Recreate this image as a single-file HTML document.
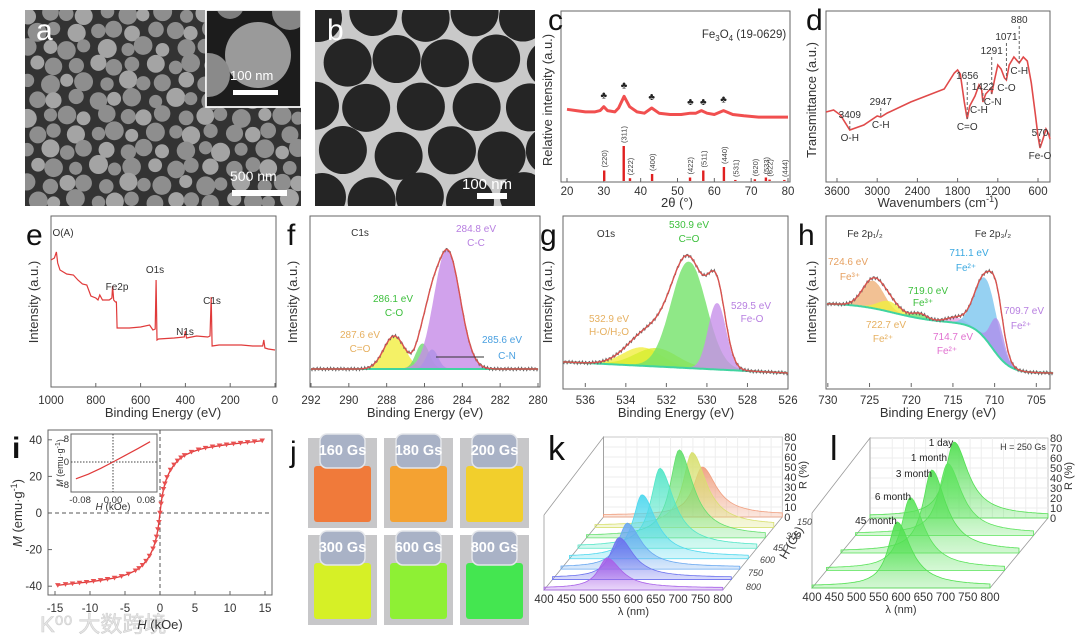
<!DOCTYPE html>
<html><head><meta charset="utf-8"><style>
html,body{margin:0;padding:0;background:#fff;}
svg{display:block;font-family:"Liberation Sans","Noto Sans CJK SC",sans-serif;}
.tk{font-size:11.5px;fill:#333;}
.tt{font-size:13px;fill:#333;}
.pl{font-size:30px;fill:#111;}
.an{font-size:10px;fill:#333;}
</style></head><body>
<svg id="fig" width="1080" height="637" viewBox="0 0 1080 637" xmlns="http://www.w3.org/2000/svg">
<defs>
<clipPath id="clipA"><rect x="25" y="10" width="276" height="196"/></clipPath>
<clipPath id="clipB"><rect x="315" y="10" width="220" height="196"/></clipPath>
<clipPath id="clipIn"><rect x="206" y="10" width="95" height="97"/></clipPath>
</defs>
<g id="panelA">
<rect x="25" y="10" width="276" height="196" fill="#333"/>
<g id="semDots" clip-path="url(#clipA)"></g>
<rect x="206" y="10" width="95" height="97" fill="#1c1c1c" stroke="#fff" stroke-width="1.5"/>
<g id="insetDots" clip-path="url(#clipIn)"></g>
<rect x="206" y="10" width="95" height="97" fill="none" stroke="#fff" stroke-width="1.5"/>
<text x="230" y="80" fill="#fff" font-size="13">100 nm</text>
<rect x="233" y="90" width="45" height="5" fill="#fff"/>
<text x="230" y="181" fill="#fff" font-size="14">500 nm</text>
<rect x="232" y="190" width="55" height="6" fill="#fff"/>
<text x="36" y="40" class="pl" fill="#fff" style="fill:#fff">a</text>
</g>
<g id="panelB">
<rect x="315" y="10" width="220" height="196" fill="#c9c9c9"/>
<g id="temDots" clip-path="url(#clipB)"></g>
<text x="462" y="189" fill="#fff" font-size="15">100 nm</text>
<rect x="477" y="193" width="30" height="6" fill="#fff"/>
<text x="327" y="40" class="pl" style="fill:#fff">b</text>
</g>
<g>
<rect x="561" y="11" width="229" height="171" fill="none" stroke="#666"/>
<text x="548" y="30" class="pl">c</text>
<text x="744" y="38" font-size="11.5" fill="#333" text-anchor="middle">Fe<tspan font-size="8" dy="3">3</tspan><tspan dy="-3">O</tspan><tspan font-size="8" dy="3">4</tspan><tspan dy="-3"> (19-0629)</tspan></text>
<text transform="translate(552,100) rotate(-90)" class="tt" text-anchor="middle">Relative intensity (a.u.)</text>
<text x="677" y="207" class="tt" text-anchor="middle">2θ (°)</text>
<g id="xrdG"></g>
</g>
<g>
<rect x="826" y="11" width="224" height="171" fill="none" stroke="#666"/>
<text x="806" y="30" class="pl">d</text>
<text transform="translate(816,100) rotate(-90)" class="tt" text-anchor="middle">Transmittance (a.u.)</text>
<text x="938" y="207" class="tt" text-anchor="middle">Wavenumbers (cm<tspan font-size="9" dy="-5">-1</tspan><tspan dy="5">)</tspan></text>
<g id="ftirG"></g>
</g>
<g>
<rect x="51" y="216" width="225" height="171" fill="none" stroke="#666"/>
<text x="26" y="245" class="pl">e</text>
<text transform="translate(38,302) rotate(-90)" class="tt" text-anchor="middle">Intensity (a.u.)</text>
<text x="163" y="417" class="tt" text-anchor="middle">Binding Energy (eV)</text>
<g id="surveyG"></g>
</g>
<g>
<rect x="310" y="216" width="230" height="171" fill="none" stroke="#666"/>
<text x="287" y="245" class="pl">f</text>
<text transform="translate(297,302) rotate(-90)" class="tt" text-anchor="middle">Intensity (a.u.)</text>
<text x="425" y="417" class="tt" text-anchor="middle">Binding Energy (eV)</text>
<g id="c1sG"></g>
</g>
<g>
<rect x="563" y="216" width="225" height="173" fill="none" stroke="#666"/>
<text x="540" y="245" class="pl">g</text>
<text transform="translate(552,302) rotate(-90)" class="tt" text-anchor="middle">Intensity (a.u.)</text>
<text x="676" y="417" class="tt" text-anchor="middle">Binding Energy (eV)</text>
<g id="o1sG"></g>
</g>
<g>
<rect x="826" y="216" width="224" height="173" fill="none" stroke="#666"/>
<text x="798" y="245" class="pl">h</text>
<text transform="translate(816,302) rotate(-90)" class="tt" text-anchor="middle">Intensity (a.u.)</text>
<text x="938" y="417" class="tt" text-anchor="middle">Binding Energy (eV)</text>
<g id="fe2pG"></g>
</g>
<g>
<rect x="48" y="430" width="224" height="165" fill="none" stroke="#666"/>
<text x="12" y="458" font-size="30" font-weight="bold" fill="#111">i</text>
<text transform="translate(22,513) rotate(-90)" class="tt" text-anchor="middle"><tspan font-style="italic">M</tspan> (emu·g<tspan font-size="9" dy="-5">-1</tspan><tspan dy="5">)</tspan></text>
<g id="magG"></g>
<rect x="71" y="434" width="86" height="58" fill="#fff" stroke="#666"/>
<g id="insetG"></g>
<text x="113" y="510" font-size="10" fill="#333" text-anchor="middle"><tspan font-style="italic">H</tspan> (kOe)</text>
<text transform="translate(63,463) rotate(-90)" font-size="9" fill="#333" text-anchor="middle"><tspan font-style="italic">M</tspan> (emu·g<tspan font-size="7" dy="-3">-1</tspan><tspan dy="3">)</tspan></text>
<text x="40" y="632" font-size="22" fill="#e6e6e6" stroke="#cfcfcf" stroke-width="0.6">K⁰⁰ 大数跨境</text>
<text x="160" y="629" class="tt" text-anchor="middle"><tspan font-style="italic">H</tspan> (kOe)</text>
</g>
<g>
<text x="290" y="462" font-size="30" fill="#111">j</text>
<g id="vialG"></g>
</g>
<g>
<text x="548" y="460" font-size="34" fill="#111">k</text>
<g id="kG"></g>
</g>
<g>
<text x="830" y="460" font-size="34" fill="#111">l</text>
<g id="lG"></g>
</g>
</svg>
<script>
const xrdTheta = [20,22.5,25,27.5,29,30,31,33,34,35.5,37,39,41,43,45,48,51,53.5,55,56.5,58,60,62.5,65,68,72,76,80];
const xrdInt   = [9,8,7,7,8,11,8,7,10,19,11,7,6,10,6,5,5,6,6,8,6,5,8,5,4,3,3,3];
const xrdMarkTheta = [30,35.5,43,53.5,57,62.5];
const refTheta = [30.1,35.4,37.1,43.1,53.4,57.0,62.6,65.7,71.0,74.0,75.0,79.0];
const refInt   = [30,100,8,20,10,30,40,3,5,10,4,3];
const refHkl   = ["(220)","(311)","(222)","(400)","(422)","(511)","(440)","(531)","(620)","(533)","(622)","(444)"];
const xrdTicks = [20,30,40,50,60,70,80];

const ftirWn = [3764,3650,3550,3409,3200,3000,2947,2850,2500,2000,1850,1800,1760,1700,1656,1620,1540,1480,1440,1422,1380,1300,1291,1250,1200,1150,1100,1071,1030,960,880,820,760,700,640,600,570,530,480,440,421];
const ftirT  = [70,72,67,52,57,66,65,69,80,93,109,112,108,80,63,76,86,97,92,80,88,94,88,102,117,113,104,102,117,125,119,125,121,99,68,46,34,42,53,48,43];
const ftirTicks = [3600,3000,2400,1800,1200,600];
const ftirBands = [3409,2947,1656,1422,1291,1071,880,570];
const ftirBandLbl = ["3409","2947","1656","1422","1291","1071","880","570"];
const ftirGroup = ["O-H","C-H","C=O","C-H","C-N","C-O","C-H","Fe-O"];

const surveyBE  = [1000,985,976,970,960,930,900,880,860,840,822,800,790,782,770,740,728,725,720,712,708,705,650,600,560,545,535,531,527,520,450,405,400,395,350,300,290,285,281,250,150,100,55,50,45,30,0];
const surveyCnt = [150,152,158,147,140,136,135,130,126,125,114,112,110,115,110,110,112,124,110,108,108,82,82,83,85,80,81,130,70,71,72,73,79,72,74,73,74,113,64,65,65,64,64,70,62,61,60];
const surveyTicks = [1000,800,600,400,200,0];

const c1sCenter = [287.6,286.1,285.6,284.8];
const c1sAmp    = [33,25,19,119];
const c1sFwhm   = [1.3,0.8,0.7,1.6];
const c1sColor  = ["#f2ee40","#6fdc6f","#5aa7e6","#c68ce8"];
const c1sTicks  = [292,290,288,286,284,282,280];

const o1sCenter = [533.2,532.5,530.9,529.5];
const o1sAmp    = [18,18,106,66];
const o1sFwhm   = [2.2,2.4,2.0,1.0];
const o1sColor  = ["#f2ee40","#d8ee30","#74e36a","#c890ea"];
const o1sTicks  = [536,534,532,530,528,526];

const feCenter = [724.6,722.7,719.0,714.7,711.1,709.7];
const feAmp    = [27,10,5,5,60,35];
const feFwhm   = [3.0,3.0,2.0,2.5,3.0,1.8];
const feColor  = ["#f0b27a","#f2ee40","#74e36a","#f0a0e0","#7cc6f0","#b090ec"];
const feTicks  = [730,725,720,715,710,705];

const magH = [-14.6,-13.5,-12.5,-11.5,-10.5,-9.5,-8.5,-7.5,-6.5,-5.5,-4.5,-3.5,-3,-2.5,-2,-1.5,-1,-0.7,-0.5,-0.3,-0.15,0,0.15,0.3,0.5,0.7,1,1.5,2,2.5,3,3.5,4.5,5.5,6.5,7.5,8.5,9.5,10.5,11.5,12.5,13.5,14.6];
const magM = [-39.5,-39,-38.6,-38.2,-37.8,-37.3,-36.8,-36.2,-35.5,-34.6,-33.3,-31.5,-30.2,-28.5,-26.3,-23.5,-19.5,-16,-13,-9,-5,0,5,9,13,16,19.5,23.5,26.3,28.5,30.2,31.5,33.3,34.6,35.5,36.2,36.8,37.3,37.8,38.2,38.6,39,39.5];
const magXTicks = [-15,-10,-5,0,5,10,15];
const magYTicks = [40,20,0,-20,-40];
const insetH = [-0.09,-0.06,-0.03,0,0.03,0.06,0.09];
const insetM = [-5.8,-4.2,-2.2,0,2.3,4.6,7.0];

const vialField = ["160 Gs","180 Gs","200 Gs","300 Gs","600 Gs","800 Gs"];
const vialColor = ["#f07a3a","#f4a232","#f2cf2c","#d6f026","#8ef034","#44e650"];

const kPeak = [541,549,548,562,583,607,617,621];
const kR    = [32,42,46,64,80,88,75,50];
const kColor = ["#a860e8","#6c72ee","#6aa8f0","#4fd8ee","#55e6c8","#66e070","#d8e070","#f0a080"];
const kFieldLbl = ["800","750","600","450","300","150"];
const lPeak = [591,588,604,607,589];
const lR    = [66,73,83,72,76];
const lAge  = ["45 month","6 month","3 month","1 month","1 day"];
const rTicks = [0,10,20,30,40,50,60,70,80];
const lamTicks = [400,450,500,550,600,650,700,750,800];

const NS = "http://www.w3.org/2000/svg";
function mk(tag, attrs, parent){ const e=document.createElementNS(NS,tag); for(const k in attrs) e.setAttribute(k,attrs[k]); parent.appendChild(e); return e; }
function scale(d0,d1,r0,r1){ return v => r0 + (v-d0)*(r1-r0)/(d1-d0); }
function txt(parent,x,y,s,attrs){ const t=mk("text",Object.assign({x:x,y:y},attrs||{}),parent); t.textContent=s; return t; }
function gauss(x,c,a,w){ const s=w/2.3548; return a*Math.exp(-0.5*((x-c)/s)**2); }
function poly(xs,ys){ return xs.map((x,i)=>x.toFixed(1)+","+ys[i].toFixed(1)).join(" "); }

(function(){
  const g=document.getElementById("semDots");
  for(let r=0;r<12;r++){ for(let c=0;c<15;c++){
    const x=28+c*19.5+(r%2)*9+3*Math.sin(r*3.1+c*1.7), y=14+r*17+2.5*Math.cos(c*2.3+r);
    const rad=8+1.5*Math.sin(r*1.3+c*2.9);
    const d=mk("circle",{cx:x,cy:y,r:rad,fill:(r+c)%3?"#8e8e8e":"#a4a4a4"},g);
    
    
  }}
  const gi=document.getElementById("insetDots");
  [[258,55,33,"#9a9a9a"],[208,75,22,"#8a8a8a"],[290,12,18,"#858585"],[230,5,14,"#7e7e7e"]].forEach(p=>{
    const d=mk("circle",{cx:p[0],cy:p[1],r:p[2],fill:p[3]},gi);
    
    
  });
  const gt=document.getElementById("temDots");
  for(let r=0;r<5;r++){ for(let c=0;c<5;c++){
    const x=318+c*52+(r%2)*26+4*Math.sin(r*2+c), y=15+r*46+3*Math.cos(c*3+r);
    const d=mk("circle",{cx:x,cy:y,r:24,fill:"#252525"},gt);
    
    
  }}
})();

(function(){
  const g=document.getElementById("xrdG");
  const X=scale(20,80,567,788), Y=v=>121-v*1.3, B=v=>181-v*0.35;
  xrdTicks.forEach(v=>{ const t=txt(g,X(v),195,v,{class:"tk","text-anchor":"middle"});
    
    
    mk("line",{x1:X(v),x2:X(v),y1:182,y2:178,stroke:"#666"},g); });
  const ln=mk("polyline",{points:poly(xrdTheta.map(X),xrdInt.map(Y)),fill:"none",stroke:"#ef3030","stroke-width":3,"stroke-linejoin":"round",opacity:0.85},g);
  
  
  xrdMarkTheta.forEach(v=>{ let i=0; while(i<xrdTheta.length-1 && xrdTheta[i+1]<v) i++;
    const t=txt(g,X(v),Y(xrdInt[i+1]||10)-8,"♣",{"font-size":10,"text-anchor":"middle",fill:"#222"});
    
     });
  refTheta.forEach((v,i)=>{
    const b=mk("rect",{x:X(v)-1.2,y:B(refInt[i]),width:2.4,height:181-B(refInt[i]),fill:"#e02020"},g);
    
    
    const t=txt(g,0,0,refHkl[i],{transform:`translate(${X(v)+3},${B(refInt[i])-3}) rotate(-90)`,"font-size":7.5,fill:"#444"});
    
    
  });
})();

(function(){
  const g=document.getElementById("ftirG");
  const X=scale(3600,600,837,1038), Y=v=>182-v;
  ftirTicks.forEach(v=>{ const t=txt(g,X(v),195,v,{class:"tk","text-anchor":"middle"});
    
    
    mk("line",{x1:X(v),x2:X(v),y1:182,y2:178,stroke:"#666"},g); });
  const ln=mk("polyline",{points:poly(ftirWn.map(X),ftirT.map(Y)),fill:"none",stroke:"#e04a4a","stroke-width":1.6},g);
  
  
  ftirBands.forEach((v,i)=>{
    let j=0; while(j<ftirWn.length-1 && ftirWn[j+1]>v) j++;
    const yv=Y(ftirT[j+1]);
    const above = [2,4,5,6].includes(i);
    const ly = above ? yv-40 : yv-12;
    const l=mk("line",{x1:X(v),x2:X(v),y1:ly+3,y2:yv,stroke:"#666","stroke-dasharray":"3,2"},g);
    
    
    const t=txt(g,X(v),ly,ftirBandLbl[i],{class:"an","text-anchor":"middle"});
    
    
    const t2=txt(g,X(v)+(i==3?-4:i==4?1:0),yv+11,ftirGroup[i],{class:"an","text-anchor":"middle"});
    
    
  });
})();

(function(){
  const g=document.getElementById("surveyG");
  const X=scale(1000,0,51,275), Y=v=>410-v;
  surveyTicks.forEach(v=>{ const t=txt(g,X(v),404,v,{class:"tk","text-anchor":"middle"});
    
    
    mk("line",{x1:X(v),x2:X(v),y1:387,y2:383,stroke:"#666"},g); });
  const ln=mk("polyline",{points:poly(surveyBE.map(X),surveyCnt.map(Y)),fill:"none",stroke:"#e03a3a","stroke-width":1.2},g);
  
  
  [["O(A)",63,236],["Fe2p",117,290],["O1s",155,273],["N1s",185,335],["C1s",212,304]].forEach(a=>{
    const t=txt(g,a[1],a[2],a[0],{class:"an","text-anchor":"middle"});
    
    
  });
})();

function xpsPanel(gid,lo,hi,x0,x1,centers,amps,fwhms,colors,base,ticks,name){
  const g=document.getElementById(gid);
  const X=scale(hi,lo,x0,x1);
  ticks.forEach(v=>{ const t=txt(g,X(v),404,v,{class:"tk","text-anchor":"middle"});
    
    
    mk("line",{x1:X(v),x2:X(v),y1:387,y2:383,stroke:"#666"},g); });
  const xs=[]; for(let v=hi; v>=lo-1e-9; v-=(hi-lo)/220) xs.push(v);
  centers.forEach((c,i)=>{
    const top=xs.map(v=>base(v)-gauss(v,c,amps[i],fwhms[i]));
    const pts=poly(xs.map(X),top)+" "+poly(xs.slice().reverse().map(X),xs.slice().reverse().map(base));
    const p=mk("polygon",{points:pts,fill:colors[i],opacity:0.8,stroke:colors[i]},g);
    
    
  });
  const bl=mk("polyline",{points:poly(xs.map(X),xs.map(base)),fill:"none",stroke:"#40d4a0","stroke-width":2},g);
  
  
  const env=xs.map(v=>base(v)-centers.reduce((s,c,i)=>s+gauss(v,c,amps[i],fwhms[i]),0));
  const raw=mk("polyline",{points:poly(xs.map(X),env.map((y,i)=>y+1.8*Math.sin(i*1.9))),fill:"none",stroke:"#666","stroke-width":0.9},g);
  
  
  const e=mk("polyline",{points:poly(xs.map(X),env),fill:"none",stroke:"#d9534f","stroke-width":1.4},g);
  
  
  return g;
}
(function(){
  const g=xpsPanel("c1sG",280,292,311,538,c1sCenter,c1sAmp,c1sFwhm,c1sColor,v=>369,c1sTicks,"c1s");
  [["C1s",360,236,"#333"],["284.8 eV",476,232,"#b77ee0"],["C-C",476,246,"#b77ee0"],["286.1 eV",393,302,"#3cbf3c"],["C-O",394,316,"#3cbf3c"],["287.6 eV",360,338,"#e6b060"],["C=O",360,352,"#e6b060"],["285.6 eV",502,343,"#4aa0e0"],["C-N",507,359,"#4aa0e0"]].forEach(a=>{
    const t=txt(g,a[1],a[2],a[0],{class:"an","text-anchor":"middle",style:"fill:"+a[3]});
    
     });
  const ar=mk("line",{x1:436,y1:357,x2:484,y2:357,stroke:"#333"},g);
  
  
})();
(function(){
  const g=xpsPanel("o1sG",526,537.1,563,788,o1sCenter,o1sAmp,o1sFwhm,o1sColor,v=>362+(537-v)*1.0,o1sTicks,"o1s");
  [["O1s",606,237,"#333"],["530.9 eV",689,228,"#3cbf3c"],["C=O",689,242,"#3cbf3c"],["532.9 eV",609,322,"#e6b060"],["H-O/H₂O",609,335,"#e6b060"],["529.5 eV",751,309,"#b77ee0"],["Fe-O",752,322,"#b77ee0"]].forEach(a=>{
    const t=txt(g,a[1],a[2],a[0],{class:"an","text-anchor":"middle",style:"fill:"+a[3]});
    
     });
})();
(function(){
  const base=v=>373-50/(1+Math.exp(-(v-710.3)/1.1))-20/(1+Math.exp(-(v-722)/2.5));
  const g=xpsPanel("fe2pG",703,730.1,827,1053,feCenter,feAmp,feFwhm,feColor,base,feTicks,"fe2p");
  [["Fe 2p₁/₂",865,237,"#333"],["Fe 2p₃/₂",993,237,"#333"],["724.6 eV",848,265,"#e6a060"],["Fe³⁺",850,280,"#e6a060"],["719.0 eV",928,294,"#3cbf3c"],["Fe³⁺",923,306,"#3cbf3c"],["711.1 eV",969,256,"#3aa8e0"],["Fe²⁺",966,271,"#3aa8e0"],["722.7 eV",886,328,"#e6b060"],["Fe²⁺",883,342,"#e6b060"],["714.7 eV",953,340,"#e070d0"],["Fe²⁺",947,354,"#e070d0"],["709.7 eV",1024,314,"#b77ee0"],["Fe²⁺",1021,329,"#b77ee0"]].forEach(a=>{
    const t=txt(g,a[1],a[2],a[0],{class:"an","text-anchor":"middle",style:"fill:"+a[3]});
    
     });
})();

(function(){
  const g=document.getElementById("magG");
  const X=v=>160+v*7.0, Y=v=>513-v*1.83;
  magXTicks.forEach(v=>{ const t=txt(g,X(v),612,v,{class:"tk","text-anchor":"middle","font-size":13});
    
    
    mk("line",{x1:X(v),x2:X(v),y1:595,y2:591,stroke:"#666"},g); });
  magYTicks.forEach(v=>{ const t=txt(g,42,Y(v)+4,v,{class:"tk","text-anchor":"end","font-size":13});
    
    
    mk("line",{x1:48,x2:52,y1:Y(v),y2:Y(v),stroke:"#666"},g); });
  mk("line",{x1:48,x2:272,y1:Y(0),y2:Y(0),stroke:"#555","stroke-dasharray":"4,3"},g);
  mk("line",{x1:X(0),x2:X(0),y1:430,y2:595,stroke:"#555","stroke-dasharray":"4,3"},g);
  const ln=mk("polyline",{points:poly(magH.map(X),magM.map(Y)),fill:"none",stroke:"#e03a3a","stroke-width":1.3},g);
  
  
  magH.forEach((h,i)=>{ const x=X(h), y=Y(magM[i]);
    const m=mk("polygon",{points:`${x-2.8},${y-2.2} ${x+2.8},${y-2.2} ${x},${y+2.5}`,fill:"#e85050"},g);
    
     });
  const gi=document.getElementById("insetG");
  const XI=v=>113+v*412, YI=v=>462-v*2.9;
  [-0.08,0,0.08].forEach(v=>{ const t=txt(gi,XI(v),503,v.toFixed(2),{"font-size":9.5,fill:"#333","text-anchor":"middle"});
    
     });
  [8,0,-8].forEach(v=>{ const t=txt(gi,69,YI(v)+3,v,{"font-size":9.5,fill:"#333","text-anchor":"end"});
    
     });
  mk("line",{x1:71,x2:157,y1:YI(0),y2:YI(0),stroke:"#444","stroke-dasharray":"1.5,1.5"},gi);
  mk("line",{x1:XI(0),x2:XI(0),y1:434,y2:492,stroke:"#444","stroke-dasharray":"1.5,1.5"},gi);
  const il=mk("polyline",{points:poly(insetH.map(XI),insetM.map(YI)),fill:"none",stroke:"#e03a3a","stroke-width":1.2},gi);
  
  
})();

(function(){
  const g=document.getElementById("vialG");
  const xs=[308,384,460], ys=[438,535];
  vialField.forEach((lbl,i)=>{
    const x=xs[i%3], y=ys[Math.floor(i/3)], w=69, h=90;
    const o=mk("rect",{x:x,y:y,width:w,height:h,fill:"#c7c7c9"},g);
    
    
    const lq=mk("rect",{x:x+6,y:y+28,width:w-12,height:h-34,rx:3,fill:vialColor[i]},g);
    
    
    const cap=mk("rect",{x:x+12,y:y-4,width:w-24,height:34,rx:7,fill:"#a9b2c6",stroke:"#e4e6ea","stroke-width":1.5},g);
    
    
    const t=txt(g,x+w/2,y+17,lbl,{"font-size":14.5,"font-weight":"bold",fill:"#fff","text-anchor":"middle"});
    
    
  });
})();

function waterfall(gid,peaks,Rs,colors,cfg,name){
  const g=document.getElementById(gid);
  const n=peaks.length;
  const dx=(cfg.backX0-cfg.frontX0)/(n-1), dy=(cfg.frontBase-cfg.backBase)/(n-1);
  const sx=cfg.sx;
  const bx0=cfg.backX0, bx1=cfg.backX0+400*sx;
  const wall=mk("rect",{x:bx0,y:cfg.backBase-80,width:bx1-bx0,height:80,fill:"#fff",stroke:"#bbb","stroke-width":0.8},g);
  
  
  for(let r=10;r<80;r+=10) mk("line",{x1:bx0,x2:bx1,y1:cfg.backBase-r,y2:cfg.backBase-r,stroke:"#eee"},g);
  for(let l=450;l<800;l+=25) mk("line",{x1:bx0+(l-400)*sx,x2:bx0+(l-400)*sx,y1:cfg.backBase-80,y2:cfg.backBase,stroke:"#eee"},g);
  const fx1=cfg.frontX0+400*sx;
  const frame=mk("polyline",{points:`${cfg.frontX0},${cfg.frontBase-75} ${bx0},${cfg.backBase-80} ${bx0},${cfg.backBase} ${cfg.frontX0},${cfg.frontBase} ${cfg.frontX0},${cfg.frontBase-75}`,fill:"none",stroke:"#999","stroke-width":0.8},g);
  
  
  const floor=mk("polyline",{points:`${cfg.frontX0},${cfg.frontBase} ${fx1},${cfg.frontBase} ${bx1},${cfg.backBase}`,fill:"none",stroke:"#999","stroke-width":0.8},g);
  
  
  rTicks.forEach(r=>{ const t=txt(g,bx1+2,cfg.backBase-r+4,r,{"font-size":11,fill:"#333"});
    
     });
  const rt=txt(g,0,0,"R (%)",{transform:`translate(${bx1+24},${cfg.backBase-42}) rotate(-90)`,"font-size":11,fill:"#333","text-anchor":"middle"});
  
  
  lamTicks.forEach(l=>{ const t=txt(g,cfg.frontX0+(l-400)*sx,cfg.frontBase+13,l,{"font-size":11.5,fill:"#333","text-anchor":"middle"});
    
     });
  const lt=txt(g,cfg.frontX0+200*sx,cfg.frontBase+25,"λ (nm)",{"font-size":11,fill:"#333","text-anchor":"middle"});
  
  
  const defs=document.querySelector("defs");
  for(let i=n-1;i>=0;i--){
    const x0=cfg.frontX0+i*dx, base=cfg.frontBase-i*dy;
    const gr=mk("linearGradient",{id:name+"gr"+i,x1:0,y1:0,x2:0,y2:1},defs);
    mk("stop",{offset:"0","stop-color":colors[i],"stop-opacity":0.95},gr);
    mk("stop",{offset:"1","stop-color":colors[i],"stop-opacity":0.25},gr);
    const xs=[], ys=[];
    for(let l=400;l<=800;l+=4){
      const w=l<peaks[i]?24:38;
      const r=2+(Rs[i]-2)/(1+((l-peaks[i])/w)**2);
      xs.push(x0+(l-400)*sx); ys.push(base-r);
    }
    const pts=poly(xs,ys)+` ${xs[xs.length-1]},${base} ${xs[0]},${base}`;
    const p=mk("polygon",{points:pts,fill:`url(#${name}gr${i})`,stroke:colors[i],"stroke-width":0.8},g);
    
    
  }
  return {g,dx,dy};
}
(function(){
  const r=waterfall("kG",kPeak,kR,kColor,{frontX0:544,backX0:603.5,frontBase:590,backBase:517,sx:0.447},"k");
  const pos=[[746,590],[748,576],[760,563],[773,551],[786,539],[797,525]];
  kFieldLbl.forEach((s,i)=>{ const t=txt(r.g,pos[i][0],pos[i][1],s,{"font-size":9,"font-style":"italic",fill:"#444"});
    
     });
  const ht=txt(r.g,0,0,"H (Gs)",{transform:"translate(786,560) rotate(-60)","font-size":12,fill:"#333"});
  
  
})();
(function(){
  const r=waterfall("lG",lPeak,lR,["#52e052","#5ae35a","#55e055","#5ee35e","#52df52"],{frontX0:812,backX0:870,frontBase:588,backBase:518,sx:0.445},"l");
  const pos=[[876,524],[893,500],[914,477],[929,461],[941,446]];
  lAge.forEach((s,i)=>{ const t=txt(r.g,pos[i][0],pos[i][1],s,{"font-size":10,fill:"#222","text-anchor":"middle"});
    
     });
  const hl=txt(r.g,1023,450,"H = 250 Gs",{"font-size":9,fill:"#333","text-anchor":"middle"});
  
  
})();
</script>
</body></html>
